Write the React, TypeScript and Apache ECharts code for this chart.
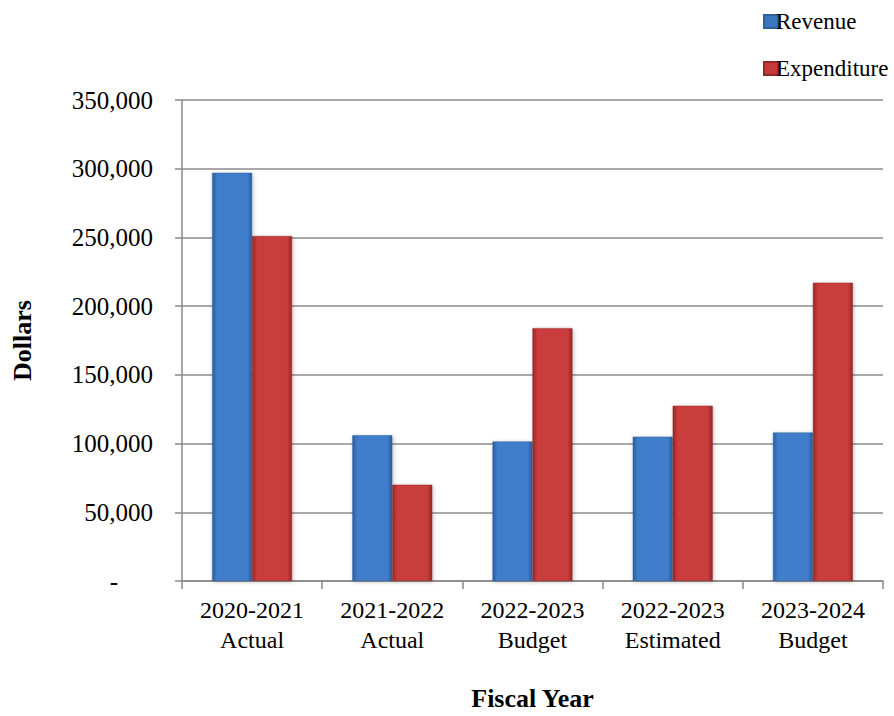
import React, { useEffect, useRef } from "react";
import * as echarts from "echarts";

const categories = [
  "2020-2021\nActual",
  "2021-2022\nActual",
  "2022-2023\nBudget",
  "2022-2023\nEstimated",
  "2023-2024\nBudget",
];
const revenue = [297000, 106000, 101500, 105000, 108000];
const expenditure = [251000, 70000, 184000, 127500, 217000];
const yTicks = { min: 0, max: 350000, interval: 50000 };

const FONT = "'Liberation Serif', 'Times New Roman', serif";

function barGradient(edge: string, mid: string) {
  return new echarts.graphic.LinearGradient(0, 0, 1, 0, [
    { offset: 0, color: edge },
    { offset: 0.12, color: mid },
    { offset: 0.88, color: mid },
    { offset: 1, color: edge },
  ]);
}

export default function App() {
  const ref = useRef<HTMLDivElement>(null);
  useEffect(() => {
    if (!ref.current) return;
    const chart = echarts.init(ref.current, null, { renderer: "svg" });
    chart.setOption({
      animation: false,
      backgroundColor: "#ffffff",
      textStyle: { fontFamily: FONT },
      legend: {
        orient: "vertical",
        left: 758,
        top: 5,
        itemWidth: 14,
        itemHeight: 13,
        itemGap: 24,
        icon: "rect",
        textStyle: { fontFamily: FONT, fontSize: 23, color: "#000", padding: [0, 0, 0, -7] },
        data: [
          { name: "Revenue", itemStyle: { color: "#3B76C0" } },
          { name: "Expenditure", itemStyle: { color: "#C53A3A" } },
        ],
      },
      grid: { left: 182, right: 11, top: 100, bottom: 133 },
      xAxis: {
        type: "category",
        data: categories,
        axisLine: { lineStyle: { color: "#888", width: 1.5 } },
        axisTick: { show: true, length: 8, lineStyle: { color: "#888", width: 1.5 } },
        axisLabel: {
          interval: 0,
          hideOverlap: false,
          fontFamily: FONT,
          fontSize: 24,
          color: "#000",
          lineHeight: 30,
          margin: 14,
        },
        name: "Fiscal Year",
        nameLocation: "middle",
        nameGap: 104,
        nameTextStyle: { fontFamily: FONT, fontSize: 26, fontWeight: "bold", color: "#000" },
      },
      yAxis: {
        type: "value",
        min: yTicks.min,
        max: yTicks.max,
        interval: yTicks.interval,
        axisLine: { show: true, lineStyle: { color: "#888", width: 1.5 } },
        axisTick: { show: true, length: 7, lineStyle: { color: "#888", width: 1.5 } },
        splitLine: { lineStyle: { color: "#8c8c8c", width: 1.5 } },
        axisLabel: {
          fontFamily: FONT,
          fontSize: 25,
          color: "#000",
          margin: 29,
          formatter: (v: number) => (v === 0 ? "{z|-}" : v.toLocaleString("en-US")),
          rich: {
            z: { fontFamily: FONT, fontSize: 25, color: "#000", padding: [0, 35, 0, 0] },
          },
        },
        name: "Dollars",
        nameLocation: "middle",
        nameGap: 147,
        nameRotate: 90,
        nameTextStyle: { fontFamily: FONT, fontSize: 26, fontWeight: "bold", color: "#000" },
      },
      series: [
        {
          name: "Revenue",
          type: "bar",
          data: revenue,
          barGap: "0%",
          barCategoryGap: "43%",
          itemStyle: {
            color: barGradient("#2D5E9E", "#3F7DCB"),
            borderColor: "#2F619F",
            borderWidth: 0.5,
            shadowColor: "rgba(0,0,0,0.25)",
            shadowBlur: 4,
            shadowOffsetX: 1,
            shadowOffsetY: 1,
          },
        },
        {
          name: "Expenditure",
          type: "bar",
          data: expenditure,
          itemStyle: {
            color: barGradient("#962828", "#C93C3C"),
            borderColor: "#952828",
            borderWidth: 0.5,
            shadowColor: "rgba(0,0,0,0.25)",
            shadowBlur: 4,
            shadowOffsetX: 1,
            shadowOffsetY: 1,
          },
        },
      ],
    });
    return () => chart.dispose();
  }, []);
  return <div ref={ref} style={{ width: 894, height: 716, position: "absolute", left: 0, top: 0 }} />;
}
